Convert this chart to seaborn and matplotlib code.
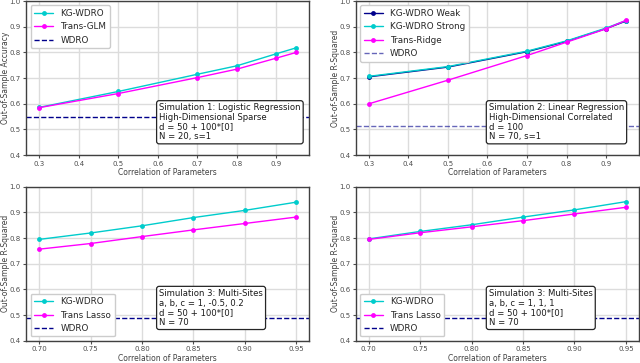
import matplotlib
matplotlib.use("Agg")
import matplotlib.pyplot as plt
import numpy as np
import pandas as pd
import seaborn as sns

# ---- data ----
corr_top = [0.3, 0.5, 0.7, 0.8, 0.9, 0.95]
corr_bot = [0.70, 0.75, 0.80, 0.85, 0.90, 0.95]

sim1_kg = [0.586, 0.648, 0.715, 0.748, 0.795, 0.818]
sim1_glm = [0.585, 0.640, 0.702, 0.735, 0.778, 0.800]
sim1_wdro = 0.55

sim2_weak = [0.705, 0.743, 0.803, 0.843, 0.893, 0.922]
sim2_strong = [0.707, 0.745, 0.805, 0.845, 0.895, 0.924]
sim2_ridge = [0.600, 0.692, 0.788, 0.840, 0.892, 0.925]
sim2_wdro = 0.513

sim3a_kg = [0.795, 0.820, 0.848, 0.880, 0.908, 0.940]
sim3a_lasso = [0.757, 0.779, 0.806, 0.832, 0.857, 0.882]
sim3a_wdro = 0.488

sim3b_kg = [0.797, 0.826, 0.852, 0.882, 0.910, 0.942]
sim3b_lasso = [0.795, 0.821, 0.844, 0.868, 0.894, 0.920]
sim3b_wdro = 0.488

top_ticks = [0.3, 0.4, 0.5, 0.6, 0.7, 0.8, 0.9]

box_texts = [
    "Simulation 1: Logistic Regression\nHigh-Dimensional Sparse\nd = 50 + 100*[0]\nN = 20, s=1",
    "Simulation 2: Linear Regression\nHigh-Dimensional Correlated\nd = 100\nN = 70, s=1",
    "Simulation 3: Multi-Sites\na, b, c = 1, -0.5, 0.2\nd = 50 + 100*[0]\nN = 70",
    "Simulation 3: Multi-Sites\na, b, c = 1, 1, 1\nd = 50 + 100*[0]\nN = 70",
]

sns.set_style("whitegrid", {
    "axes.edgecolor": "0.25",
    "grid.color": "#dcdcdc",
    "xtick.bottom": True,
    "ytick.left": True,
})
plt.rcParams["font.family"] = ["DejaVu Sans"]
plt.rcParams["xtick.major.size"] = 2.5
plt.rcParams["ytick.major.size"] = 2.5
plt.rcParams["xtick.labelsize"] = 5
plt.rcParams["ytick.labelsize"] = 5
plt.rcParams["axes.labelsize"] = 5.5
plt.rcParams["xtick.color"] = "0.3"
plt.rcParams["ytick.color"] = "0.3"
plt.rcParams["axes.labelcolor"] = "0.25"
plt.rcParams["grid.linewidth"] = 1.0
plt.rcParams["axes.linewidth"] = 1.0

CYAN = "#00cccc"
MAG = "#ff00ff"
NAVY = "#00008b"

fig, axes = plt.subplots(2, 2, figsize=(6.4, 3.63), dpi=100)
fig.subplots_adjust(left=0.041, right=0.998, top=0.997, bottom=0.061,
                    wspace=0.166, hspace=0.205)

line_kw = dict(marker="o", markersize=3.5, linewidth=1.0, markeredgewidth=0)


def draw(ax, x, series, wdro, wdro_alpha, legend_loc, text, ylabel):
    for y, color, label in series:
        sns.lineplot(x=x, y=y, color=color, label=label, ax=ax, **line_kw)
    ax.axhline(wdro, color=NAVY, linestyle="--", linewidth=1.0,
               alpha=wdro_alpha, label="WDRO")
    ax.set_ylim(0.4, 1.0)
    ax.set_xticks(x)
    ax.set_ylabel(ylabel)
    ax.set_xlabel("Correlation of Parameters")
    ax.yaxis.set_label_coords(-0.058, 0.5)
    ax.xaxis.set_label_coords(0.5, -0.083)
    ax.tick_params(axis="both", pad=1.5)
    ax.legend(loc=legend_loc, fontsize=6.3, frameon=True, framealpha=1,
              edgecolor="0.8", borderpad=0.4, handlelength=2.2)
    ax.text(0.47, 0.09, text, transform=ax.transAxes, fontsize=6.1,
            ha="left", va="bottom", linespacing=1.1, color="0.1",
            bbox=dict(boxstyle="round,pad=0.3", facecolor="white",
                      edgecolor="0.15", linewidth=0.9))
    for s in ax.spines.values():
        s.set_visible(True)


draw(axes[0, 0], corr_top,
     [(sim1_kg, CYAN, "KG-WDRO"), (sim1_glm, MAG, "Trans-GLM")],
     sim1_wdro, 1.0, "upper left", box_texts[0], "Out-of-Sample Accuracy")
axes[0, 0].set_xticks(top_ticks)

draw(axes[0, 1], corr_top,
     [(sim2_weak, NAVY, "KG-WDRO Weak"), (sim2_strong, CYAN, "KG-WDRO Strong"),
      (sim2_ridge, MAG, "Trans-Ridge")],
     sim2_wdro, 0.6, "upper left", box_texts[1], "Out-of-Sample R-Squared")
axes[0, 1].set_xticks(top_ticks)

draw(axes[1, 0], corr_bot,
     [(sim3a_kg, CYAN, "KG-WDRO"), (sim3a_lasso, MAG, "Trans Lasso")],
     sim3a_wdro, 1.0, "lower left", box_texts[2], "Out-of-Sample R-Squared")
axes[1, 0].set_xticklabels([f"{v:.2f}" for v in corr_bot])

draw(axes[1, 1], corr_bot,
     [(sim3b_kg, CYAN, "KG-WDRO"), (sim3b_lasso, MAG, "Trans Lasso")],
     sim3b_wdro, 1.0, "lower left", box_texts[3], "Out-of-Sample R-Squared")
axes[1, 1].set_xticklabels([f"{v:.2f}" for v in corr_bot])

fig.savefig("out.png", dpi=100)
